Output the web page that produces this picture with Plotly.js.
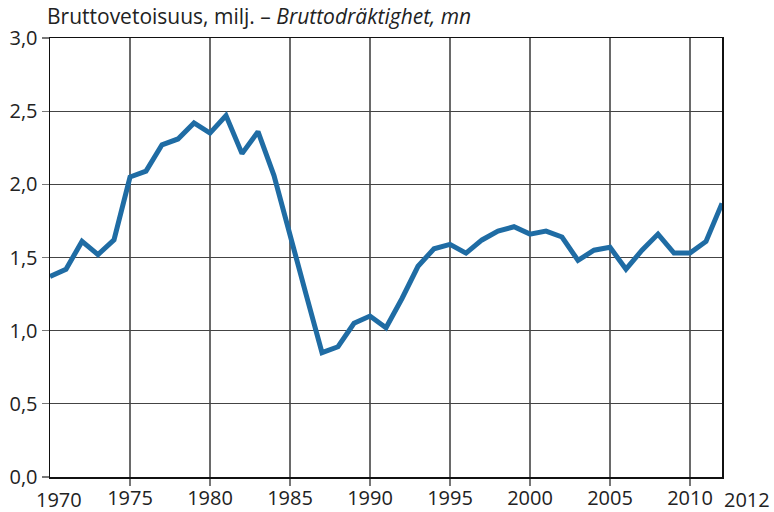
<!DOCTYPE html>
<html>
<head>
<meta charset="utf-8">
<script src="https://cdn.plot.ly/plotly-3.0.1.min.js"></script>
<style>html,body{margin:0;padding:0;background:#fff;}#chart{width:774px;height:512px;}</style>
</head>
<body>
<div id="chart"></div>
<script>
const years = [1970,1971,1972,1973,1974,1975,1976,1977,1978,1979,1980,1981,1982,1983,1984,1985,1986,1987,1988,1989,1990,1991,1992,1993,1994,1995,1996,1997,1998,1999,2000,2001,2002,2003,2004,2005,2006,2007,2008,2009,2010,2011,2012];
const tonnage = [1.37,1.42,1.61,1.52,1.62,2.05,2.09,2.27,2.31,2.42,2.35,2.47,2.21,2.36,2.06,1.67,1.25,0.85,0.89,1.05,1.10,1.02,1.22,1.44,1.56,1.59,1.53,1.62,1.68,1.71,1.66,1.68,1.64,1.48,1.55,1.57,1.42,1.55,1.66,1.53,1.53,1.61,1.87];
const xTickVals = [1975,1980,1985,1990,1995,2000,2005,2010];
const xTickText = ["1975","1980","1985","1990","1995","2000","2005","2010"];
const edgeLabels = [{year:1970, text:"1970"},{year:2012, text:"2012"}];
const yTickVals = [0,0.5,1,1.5,2,2.5,3];
const titleRegular = "Bruttovetoisuus, milj. – ";
const titleItalic = "Bruttodräktighet, mn";

const font = "Open Sans, Noto Sans, sans-serif";
const trace = {
  x: years, y: tonnage, type: "scatter", mode: "lines",
  line: {color: "#1f6ca4", width: 5},
  hoverinfo: "skip"
};
const annotations = [];
edgeLabels.forEach((e,i) => {
  annotations.push({xref:"x", yref:"paper", x:e.year, y:0, xanchor: i===0 ? "center" : "left", yanchor:"top",
    xshift: i===0 ? 9 : 0, yshift:-7, text:e.text, showarrow:false,
    font:{family:font, size:20, color:"#222"}});
});
const layout = {
  width: 774, height: 512,
  margin: {l:50, r:52, t:38, b:35},
  paper_bgcolor: "#fff", plot_bgcolor: "#fff",
  separators: ", ",
  showlegend: false,
  title: {
    text: titleRegular + "<i>" + titleItalic + "</i>",
    xref: "container", yref: "container", x: 47/774, xanchor: "left",
    y: 1 - 9/512, yanchor: "top",
    font: {family: font, size: 21, color: "#222"}
  },
  xaxis: {
    range: [1970, 2012], tickvals: xTickVals, ticktext: xTickText,
    showgrid: true, gridcolor: "#6a6a6a", gridwidth: 1.2,
    showline: true, linecolor: "#111", linewidth: 1.5, mirror: true,
    ticks: "outside", ticklen: 7, tickcolor: "#777", tickwidth: 1.2,
    ticklabelstandoff: -5,
    tickfont: {family: font, size: 20, color: "#222"},
    zeroline: false, fixedrange: true
  },
  yaxis: {
    range: [0, 3], tickvals: yTickVals, tickformat: ".1f",
    showgrid: true, gridcolor: "#444", gridwidth: 1.2,
    showline: true, linecolor: "#111", linewidth: 1.5, mirror: true,
    ticks: "outside", ticklen: 7, tickcolor: "#777", tickwidth: 1.2,
    tickfont: {family: font, size: 20, color: "#222"},
    zeroline: false, fixedrange: true
  },
  annotations: annotations
};
Plotly.newPlot("chart", [trace], layout, {displayModeBar: false, staticPlot: true});
</script>
</body>
</html>
